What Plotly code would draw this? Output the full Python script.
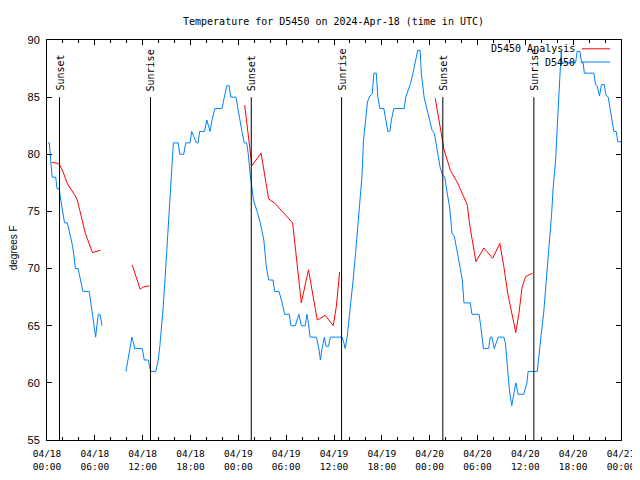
import plotly.graph_objects as go
from datetime import datetime, timedelta

BASE = datetime(2024, 4, 18, 0, 0)

# Observations (hours since 2024-04-18 00:00 UTC, deg F); None = gap
obs_hours = [0.15, 0.3, 0.4, 0.55, 0.65, 1.1, 1.25, 1.5, 1.75, 2.0, 2.2, 2.55, 2.85, 3.2, 3.4, 3.55,
             3.9, 4.2, 4.5, 5.3, 5.5, 5.7, 5.9, 6.1, 6.25, 6.45, 6.65, 6.75, 6.9,
             None,
             9.9, 10.15, 10.45, 10.65, 10.85, 11.0, 11.95, 12.2, 12.7, 12.85, 13.0, 13.65, 13.95,
             14.15, 14.35, 14.55, 14.8, 15.0, 15.2, 15.45, 15.65, 15.85, 16.45, 16.65, 17.15, 17.4,
             17.95, 18.15, 18.45, 18.75, 18.95, 19.15, 19.75, 20.05, 20.45, 20.7, 21.05, 21.95,
             22.3, 22.55, 22.85, 23.05, 23.7, 23.9, 24.2, 24.45, 24.75, 25.05, 25.25, 25.45, 25.7,
             25.9, 26.35, 26.75, 27.2, 27.5, 27.8, 28.35, 28.55, 29.1, 29.5, 29.8, 30.4, 30.6,
             31.15, 31.6, 31.9, 32.4, 32.6, 32.8, 33.0, 33.8, 34.1, 34.3, 34.5, 34.8, 35.0, 35.3,
             35.55, 37.0, 37.2, 37.4, 37.65, 37.85, 38.15, 38.4, 38.7, 39.1, 39.5, 39.7, 39.95,
             40.2, 40.5, 40.8, 41.0, 41.3, 41.5, 41.75, 42.25, 42.46, 42.75, 43.0, 43.2, 43.5,
             44.8, 45.0, 45.3, 45.6, 45.9, 46.2, 46.5, 46.8, 46.95, 47.3, 47.9, 48.3, 48.6, 48.95,
             49.3, 49.6, 49.9, 50.2, 50.5, 50.8, 51.1, 51.5, 51.8, 52.1, 52.3, 53.1, 53.3, 54.2,
             54.4, 54.75, 55.4, 55.6, 55.8, 56.1, 56.6, 57.3, 57.5, 57.8, 58.0, 58.3, 58.5, 58.8,
             59.1, 59.8, 60.2, 60.35, 61.5, 61.7, 62.0, 62.3, 62.5, 62.8, 63.0, 63.3, 63.5, 63.8,
             64.0, 64.3, 64.5, 64.6, 66.3, 66.5, 66.85, 67.05, 67.25, 67.4, 68.6, 68.8, 69.0,
             69.3, 69.55, 69.9, 70.1, 70.4, 70.65, 70.9, 71.1, 71.4, 71.6, 72.0]
obs_temps = [81, 81, 80, 79, 78, 78, 77, 77, 76, 75, 74, 74, 73, 72, 71, 70,
             70, 69, 68, 68, 67, 66, 65, 64, 65, 66, 66, 65.5, 65,
             None,
             61, 62, 63.2, 64, 63.5, 63, 63, 62, 62, 61.3, 61, 61, 62,
             63.2, 64.6, 66.4, 69, 71.3, 73.4, 76, 78.9, 81, 81, 80, 80, 81,
             81, 82, 81.5, 81, 81, 82, 82, 83, 82, 83, 84, 84,
             85.2, 86, 86, 85, 85, 84.3, 83, 82, 81, 81, 80, 78.5, 77.2,
             76, 75, 74, 72.5, 70.2, 69, 69, 68, 68, 67, 66, 66, 65,
             65, 66, 65, 65, 66, 65.2, 64, 64, 63, 62, 63, 64, 63.2, 63.2,
             64, 64, 63.6, 63, 64, 65.2, 67.25, 69, 71.3, 74.5, 78, 81.25, 83.3,
             84.6, 85.1, 85.3, 87.1, 87.1, 85, 84, 84, 83, 82, 82, 83, 84,
             84, 85, 85.6, 86.2, 87.1, 88, 89.1, 89.1, 87.1, 85, 83.3, 82.1, 81.8, 80.4,
             78.9, 78.2, 78, 76.6, 75.4, 73.1, 72.8, 71.3, 70.2, 69, 67, 67, 66, 66,
             65, 63, 63, 64, 64, 63, 64, 64, 63.5, 61.4, 59.4, 58, 58.8, 60,
             59, 59, 60, 61, 61, 62.6, 64.3, 66.1, 67.8, 70.2, 72.5, 74.8, 77.2, 79.5,
             82.4, 85.9, 89, 88, 88, 89, 89, 88, 88, 87.1, 87.1, 86.1, 86,
             85.1, 86.1, 86.1, 85.2, 85, 84, 83, 82, 82, 81.1, 81.1]

# Analysis (hours, deg F); None = gap
ana_hours = [0.6, 1.4, 1.65, 2.0, 2.5, 3.0, 3.5, 3.8, 4.2, 4.8, 5.7, 6.2, 6.7,
             None,
             10.7, 11.68, 12.1, 12.85,
             None,
             24.8, 25.1, 25.3, 25.5, 25.7, 26.85, 27.2, 27.8, 28.6, 29.7, 30.8, 31.0, 31.4,
             31.9, 32.8, 33.4, 33.9, 34.9, 35.9, 36.3, 36.7,
             None,
             48.7, 49.2, 49.6, 49.8, 50.6, 51.5, 52.2, 52.7, 53.05, 53.5, 53.8, 54.8, 55.9,
             56.8, 57.3, 57.8, 58.4, 58.8, 59.2, 59.6, 60.05, 60.9]
ana_temps = [79.3, 79.2, 79.0, 78.5, 77.5, 77.0, 76.4, 76.0, 74.8, 73.1, 71.4, 71.5, 71.6,
             None,
             70.3, 68.2, 68.4, 68.5,
             None,
             84.3, 82.7, 81.25, 80.1, 79.0, 80.1, 78.6, 76.1, 75.7, 74.8, 74.0, 72.8, 70.2,
             67.0, 69.9, 67.5, 65.5, 65.9, 65.0, 66.7, 69.7,
             None,
             84.9, 82.7, 81.25, 80.4, 78.6, 77.5, 76.4, 75.6, 73.7, 71.9, 70.6, 71.8, 70.9,
             72.2, 70.2, 67.8, 65.8, 64.4, 66.1, 68.4, 69.3, 69.6]

# Sun events (hours since start)
sun_hours = [1.57, 12.98, 25.62, 36.95, 49.65, 61.07]
sun_labels = ["Sunset", "Sunrise", "Sunset", "Sunrise", "Sunset", "Sunrise"]

tick_hours = [0, 6, 12, 18, 24, 30, 36, 42, 48, 54, 60, 66, 72]
tick_labels = ["04/18<br>00:00", "04/18<br>06:00", "04/18<br>12:00", "04/18<br>18:00",
               "04/19<br>00:00", "04/19<br>06:00", "04/19<br>12:00", "04/19<br>18:00",
               "04/20<br>00:00", "04/20<br>06:00", "04/20<br>12:00", "04/20<br>18:00",
               "04/21<br>00:00"]
y_ticks = [55, 60, 65, 70, 75, 80, 85, 90]

series_names = ["D5450 Analysis", "D5450"]
series_colors = ["#ff0000", "#0080ff"]


def ts(h):
    if h is None:
        return None
    return (BASE + timedelta(hours=h)).strftime("%Y-%m-%d %H:%M:%S")


MONO = "DejaVu Sans Mono"
SANS = "Liberation Sans"

fig = go.Figure()
fig.add_trace(go.Scatter(x=[ts(h) for h in ana_hours], y=ana_temps, mode="lines",
                         line=dict(color=series_colors[0], width=1), name=series_names[0],
                         connectgaps=False, showlegend=False))
fig.add_trace(go.Scatter(x=[ts(h) for h in obs_hours], y=obs_temps, mode="lines",
                         line=dict(color=series_colors[1], width=1), name=series_names[1],
                         connectgaps=False, showlegend=False))

for h, lab in zip(sun_hours, sun_labels):
    fig.add_shape(type="line", xref="x", yref="y", x0=ts(h), x1=ts(h), y0=55, y1=85,
                  line=dict(color="black", width=1))
    fig.add_annotation(x=ts(h), y=85.45, xref="x", yref="y", text=lab, textangle=-90,
                       showarrow=False, xanchor="center", yanchor="bottom",
                       font=dict(family=MONO, size=10, color="black"), borderpad=0)

# custom legend (text right-aligned, line sample on right, like gnuplot)
leg_y_text = [0.9775, 0.9445]
leg_y_line = [0.978, 0.945]
for name, col, yt, yl in zip(series_names, series_colors, leg_y_text, leg_y_line):
    fig.add_annotation(x=0.921, y=yt, xref="paper", yref="paper", text=name, showarrow=False,
                       xanchor="right", yanchor="middle",
                       font=dict(family=MONO, size=10, color="black"), borderpad=0)
    fig.add_shape(type="line", xref="paper", yref="paper", x0=0.932, x1=0.981, y0=yl, y1=yl,
                  line=dict(color=col, width=1))

fig.add_annotation(x=-0.058, y=0.481, xref="paper", yref="paper", text="degrees F",
                   textangle=-90, showarrow=False, xanchor="center", yanchor="middle",
                   font=dict(family=SANS, size=10, color="black"), borderpad=0)

# the page adds an 8 px body margin, so the figure's frame is offset accordingly
fig.update_layout(
    width=640, height=480,
    margin=dict(l=39, r=27, t=32, b=48, autoexpand=False),
    paper_bgcolor="white", plot_bgcolor="white",
    title=dict(text="Temperature for D5450 on 2024-Apr-18 (time in UTC)",
               x=0.5086, xanchor="center", y=0.972, yanchor="middle",
               font=dict(family=MONO, size=10, color="black")),
    showlegend=False,
)
fig.update_xaxes(
    type="date", range=[ts(0), ts(72)], automargin=False,
    tickmode="array", tickvals=[ts(h) for h in tick_hours], ticktext=tick_labels,
    ticks="inside", ticklen=5, tickcolor="black",
    showline=True, linecolor="black", linewidth=1, mirror="allticks",
    showgrid=False, zeroline=False,
    tickfont=dict(family=MONO, size=9.5, color="black"),
    ticklabelstandoff=5,
    minor=dict(ticks="inside", ticklen=3, tickcolor="black", dtick=2 * 3600 * 1000,
               tick0=ts(0), showgrid=False),
)
fig.update_yaxes(
    range=[55, 90], tickmode="array", tickvals=y_ticks, automargin=False,
    ticks="inside", ticklen=5, tickcolor="black",
    showline=True, linecolor="black", linewidth=1, mirror="allticks",
    showgrid=False, zeroline=False,
    tickfont=dict(family=SANS, size=11, color="black"),
    ticklabelstandoff=4,
)

fig.write_html("out.html")
